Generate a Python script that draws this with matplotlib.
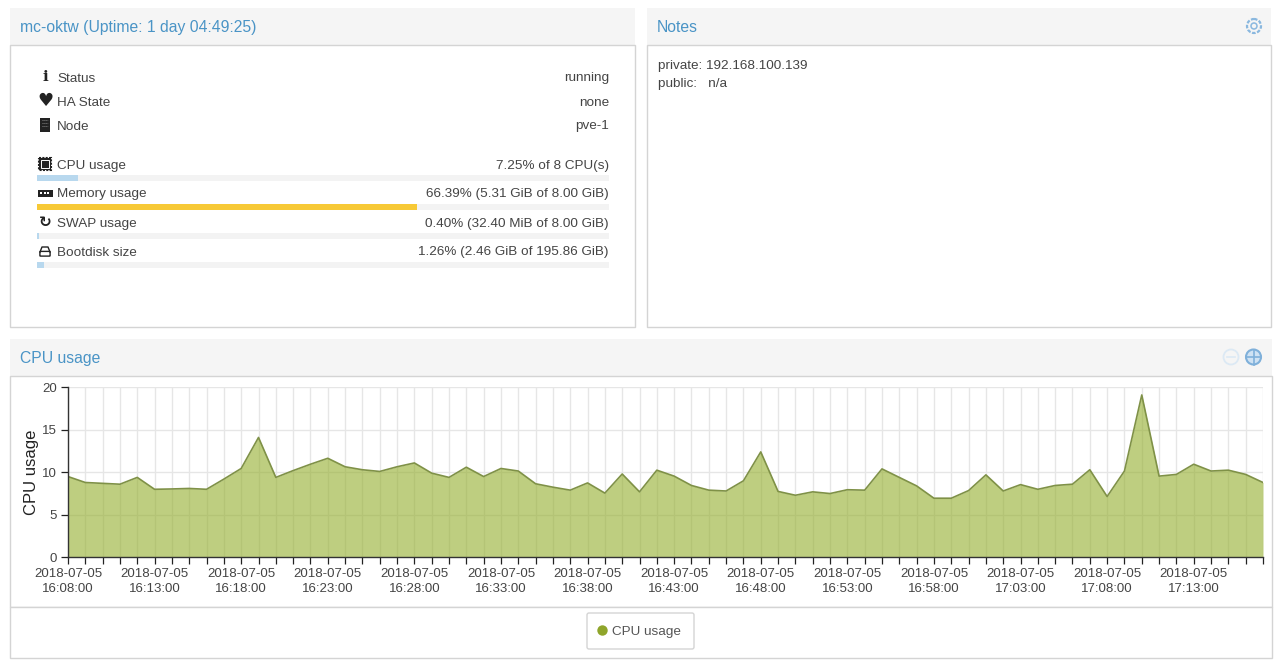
#!/usr/bin/env python3
"""Proxmox VM summary page: status panel, notes panel and the CPU usage area chart."""
import pandas as pd
import matplotlib
matplotlib.use("Agg")
import matplotlib.pyplot as plt
from matplotlib.patches import Circle, FancyBboxPatch, Rectangle

plt.rcParams["font.family"] = ["Liberation Sans", "DejaVu Sans"]

W, H = 1280, 670
BLUE = "#4a94c6"
TEXT = "#444444"
EDGE = "#d4d4d4"
HEAD = "#f5f5f5"
BAR_BLUE = "#b8d8ee"
BAR_TRACK = "#f3f3f3"
BAR_YELLOW = "#f7c936"

# data
cpu_usage = [
    9.5, 8.8, 8.7, 8.6, 9.4, 8.0, 8.04, 8.1, 8.0, 9.2,
    10.45, 14.1, 9.4, 10.2, 10.95, 11.65, 10.65, 10.3, 10.1, 10.65,
    11.1, 9.9, 9.4, 10.6, 9.5, 10.45, 10.15, 8.65, 8.25, 7.9,
    8.75, 7.55, 9.8, 7.7, 10.25, 9.55, 8.45, 7.9, 7.8, 9.0,
    12.4, 7.75, 7.3, 7.7, 7.5, 7.95, 7.9, 10.4, 9.4, 8.4,
    6.95, 6.95, 7.85, 9.7, 7.8, 8.55, 8.0, 8.45, 8.6, 10.3,
    7.15, 10.15, 19.1, 9.55, 9.75, 10.95, 10.15, 10.25, 9.75, 8.8,
]
y_ticks = [0, 5, 10, 15, 20]
info_labels = ["Status", "HA State", "Node"]
info_values = ["running", "none", "pve-1"]
usage_labels = ["CPU usage", "Memory usage", "SWAP usage", "Bootdisk size"]
usage_texts = ["7.25% of 8 CPU(s)", "66.39% (5.31 GiB of 8.00 GiB)",
               "0.40% (32.40 MiB of 8.00 GiB)", "1.26% (2.46 GiB of 195.86 GiB)"]
usage_pct = [7.25, 66.39, 0.40, 1.26]
usage_colors = [BAR_BLUE, BAR_YELLOW, BAR_BLUE, BAR_BLUE]
notes_lines = ["private: 192.168.100.139", "public:   n/a"]

times = pd.date_range("2018-07-05 16:08:00", periods=len(cpu_usage), freq="min")

fig = plt.figure(figsize=(W / 100, H / 100), dpi=100, facecolor="white")

# page chrome in pixel coordinates
bg = fig.add_axes([0, 0, 1, 1])
bg.set_xlim(0, W); bg.set_ylim(H, 0); bg.axis("off")


def panel(x0, x1, y0, y1, title=None, y_head=None):
    if title is not None:
        bg.add_patch(Rectangle((x0, y0), x1 - x0, y_head - y0, fc=HEAD, ec="none"))
        bg.text(x0 + 10, (y0 + y_head) / 2 + 0.8, title, color=BLUE, fontsize=11.3, va="center")
        y0 = y_head
    bg.add_patch(Rectangle((x0, y0), x1 - x0, y1 - y0, fc="white", ec=EDGE, lw=1))


panel(10, 635, 8, 327, "mc-oktw (Uptime: 1 day 04:49:25)", 45)
panel(647, 1271, 8, 327, "Notes", 45)
panel(10, 1272, 339, 607, "CPU usage", 376)
panel(10, 1272, 607, 658)

# status rows
for y, lab, val in zip([78.5, 102.5, 126.5], info_labels, info_values):
    bg.text(57, y, lab, color=TEXT, fontsize=9.7, va="center")
    bg.text(609, y, val, color=TEXT, fontsize=9.7, va="center", ha="right")
for y, lab, txt, pct, col in zip([164, 193, 222, 251], usage_labels, usage_texts, usage_pct, usage_colors):
    bg.text(57, y + 1.5, lab, color=TEXT, fontsize=9.7, va="center")
    bg.text(609, y + 1.5, txt, color=TEXT, fontsize=9.7, va="center", ha="right")
    bg.barh(y + 14, 572, height=5.5, left=37, color=BAR_TRACK)
    bg.barh(y + 14, 572 * pct / 100, height=5.5, left=37, color=col)

# small icons
ICON = "#222222"
bg.text(45, 77, "i", color=ICON, fontsize=11, fontweight="bold", family="DejaVu Serif", ha="center", va="center")
bg.text(45, 101, "\u2665", color=ICON, fontsize=13, family="DejaVu Sans", ha="center", va="center")
bg.add_patch(Rectangle((40, 118), 10, 14, fc=ICON, ec="none"))
for yy in (120, 123, 126):
    bg.plot([42, 48], [yy, yy], color="#888888", lw=0.7, ls=(0, (1, 1)))
bg.add_patch(Rectangle((39, 158), 12, 12, fc=ICON, ec=ICON, lw=1.5, ls=(0, (1, 0.6))))
bg.add_patch(Rectangle((41, 160), 8, 8, fc="none", ec="white", lw=0.7))
bg.add_patch(Rectangle((37.5, 190), 15, 6.5, fc=ICON, ec="none"))
for xx in (40, 43.5, 47):
    bg.add_patch(Rectangle((xx, 191.5), 2.4, 2.5, fc="white", ec="none"))
bg.text(45, 222, "\u21bb", color=ICON, fontsize=11, fontweight="bold", family="DejaVu Sans", ha="center", va="center")
bg.add_patch(FancyBboxPatch((40.5, 252), 9, 3.5, boxstyle="round,pad=0.6", fc="white", ec=ICON, lw=1))
bg.plot([40, 42, 48, 50], [252, 247, 247, 252], color=ICON, lw=1)

# panel tools
bg.add_patch(Circle((1254, 26), 7, fc="none", ec="#8ab8df", lw=1.6, ls=(0, (1.6, 0.7))))
bg.add_patch(Circle((1254, 26), 3, fc="none", ec="#8ab8df", lw=1.1))
bg.add_patch(Circle((1231, 357), 7.5, fc="none", ec="#dce9f4", lw=1.3))
bg.plot([1227, 1235], [357, 357], color="#dce9f4", lw=1.2)
bg.add_patch(Circle((1253.5, 357), 7.5, fc="#cfe2f3", ec="#7fb0da", lw=1.5))
bg.plot([1246, 1261], [357, 357], color="#7fb0da", lw=1.2)
bg.plot([1253.5, 1253.5], [349.5, 364.5], color="#7fb0da", lw=1.2)

# notes
for y, line in zip([66, 84], notes_lines):
    bg.text(658, y, line, color=TEXT, fontsize=9.7, va="center")

# legend box
bg.add_patch(FancyBboxPatch((589, 615), 103, 32, boxstyle="round,pad=2", fc="white", ec=EDGE, lw=1))
bg.add_patch(Circle((602.5, 630.5), 5.2, fc="#8fa52b", ec="none"))
bg.text(612, 632, "CPU usage", color="#555555", fontsize=9.7, va="center")

# CPU chart
ax = fig.add_axes([68 / W, 1 - 557.3 / H, (1263 - 68) / W, (557.3 - 387.3) / H], facecolor="none")
ax.fill_between(times, cpu_usage, 0, color="#94ae2c", alpha=0.6, lw=0, zorder=3)
ax.plot(times, cpu_usage, color="#7f9147", lw=1.2, zorder=4)
ax.set_xlim(times[0], times[-1])
ax.set_ylim(0, 20)
ax.set_yticks(y_ticks)
ax.set_ylabel("CPU usage", fontsize=12, color="#222222", labelpad=2)
ax.set_xticks(times)
ax.set_xticklabels([t.strftime("%Y-%m-%d\n%H:%M:%S") if i % 5 == 0 else "" for i, t in enumerate(times)],
                   linespacing=1.25)
ax.tick_params(axis="both", labelsize=9.5, labelcolor="#444444", length=5, width=0.9, color="#222222", pad=3)
ax.grid(True, color="#e6e6e6", lw=1, zorder=1)
ax.set_axisbelow(True)
for s in ("top", "right"):
    ax.spines[s].set_visible(False)
for s in ("left", "bottom"):
    ax.spines[s].set_color("#333333")
    ax.spines[s].set_linewidth(1)
    ax.spines[s].set_zorder(5)

fig.savefig("out.png", dpi=100)
plt.close(fig)
